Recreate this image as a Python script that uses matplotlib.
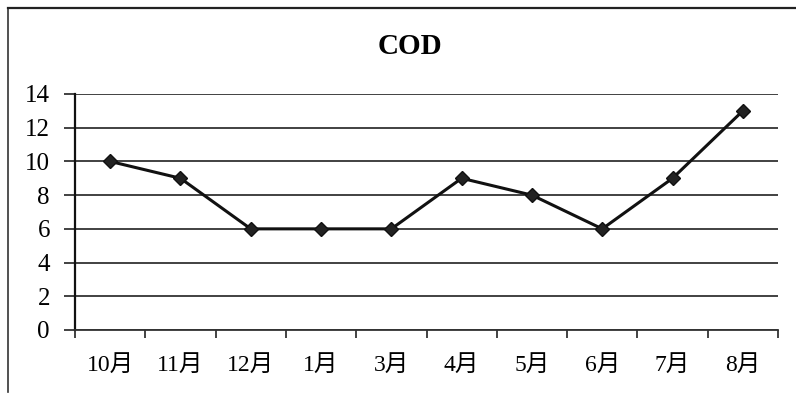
import matplotlib
matplotlib.use("Agg")
import matplotlib.pyplot as plt
from matplotlib.lines import Line2D
import numpy as np

months = ["10月", "11月", "12月", "1月", "3月", "4月", "5月", "6月", "7月", "8月"]
cod = [10, 9, 6, 6, 6, 9, 8, 6, 9, 13]
yticks = [0, 2, 4, 6, 8, 10, 12, 14]

fam = ["Liberation Serif", "Noto Sans CJK JP"]
plt.rcParams["font.family"] = fam

W, H = 796, 394
fig = plt.figure(figsize=(W / 100, H / 100), dpi=100)
ax = fig.add_axes([75 / W, 1 - 330 / H, (778 - 75) / W, (330 - 94) / H])

x = np.arange(len(months))
ax.plot(x, cod, color="#111111", lw=2.2, marker="D", ms=7,
        markerfacecolor="#222222", markeredgecolor="#111111", zorder=3)

ax.set_xlim(-0.5, len(months) - 0.5)
ax.set_ylim(0, 14)
ax.set_yticks(yticks)
ax.set_yticklabels([str(v) for v in yticks], fontsize=18)
for v in yticks:
    ax.axhline(v, color="#333333", lw=1.3, zorder=1)

ax.set_xticks(x)
ax.set_xticklabels(months, fontsize=17)
ax.tick_params(axis="x", length=0, pad=18)
ax.set_xticks(np.arange(-0.5, len(months)), minor=True)
ax.tick_params(axis="x", which="minor", length=6, width=1.2, color="#222222")
ax.tick_params(axis="y", length=8, width=1.3, color="#333333", pad=10)

for s in ["top", "right"]:
    ax.spines[s].set_visible(False)
ax.spines["left"].set_linewidth(1.6)
ax.spines["left"].set_color("#111111")
ax.spines["bottom"].set_linewidth(1.3)
ax.spines["bottom"].set_color("#333333")

fig.text(410 / W, 1 - 47 / H, "COD", ha="center", va="center",
         fontsize=21, fontweight="bold", family="Liberation Serif")

# frame around the chart area
fig.add_artist(Line2D([8 / W, 8 / W], [1 - 8 / H, 1 - 392 / H],
                      transform=fig.transFigure, color="#333333", lw=1.2))
fig.add_artist(Line2D([8 / W, 1.0], [1 - 8 / H, 1 - 8 / H],
                      transform=fig.transFigure, color="#222222", lw=1.6))

fig.savefig("out.png", dpi=100)
